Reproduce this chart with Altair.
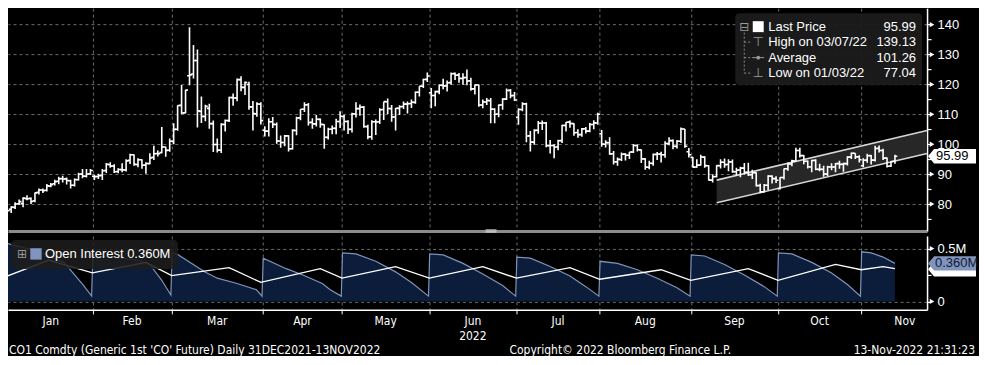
import altair as alt
import pandas as pd

# ---------------- data: daily bars (open, high, low, close) ----------------
# trading-day index 0 = 31 Dec 2021 ... last = 11 Nov 2022
bars_dec21 = [(79.3, 79.5, 77.6, 77.78)]
bars_jan = [
    (78.2, 79.3, 77.04, 78.98), (78.9, 80.6, 78.3, 80.00), (80.1, 81.5, 79.7, 80.80),
    (80.2, 82.3, 78.9, 81.99), (81.8, 82.9, 81.3, 81.75), (81.9, 82.2, 80.0, 80.87),
    (81.1, 83.9, 80.6, 83.72), (83.9, 85.2, 83.2, 84.67), (84.7, 85.2, 83.7, 84.47),
    (84.6, 86.7, 84.2, 86.06), (86.0, 87.0, 85.6, 86.48), (86.8, 88.1, 86.2, 87.51),
    (87.6, 89.1, 86.6, 88.44), (88.5, 89.5, 87.2, 88.38), (88.4, 88.9, 86.5, 87.89),
    (87.8, 88.1, 85.2, 86.27), (86.3, 88.5, 85.9, 88.20), (88.1, 90.5, 87.9, 89.96),
    (90.0, 91.7, 88.6, 89.34), (89.3, 91.7, 88.9, 90.03), (90.1, 91.7, 89.7, 91.21),
]
bars_feb = [
    (89.3, 89.8, 88.0, 89.16), (89.2, 90.1, 88.4, 89.47), (89.6, 91.7, 88.0, 91.11),
    (91.2, 93.7, 90.4, 93.27), (93.2, 94.0, 92.1, 92.69), (92.7, 93.3, 90.4, 90.78),
    (90.9, 92.0, 90.3, 91.55), (91.5, 93.6, 90.6, 91.41), (91.4, 95.0, 90.9, 94.44),
    (94.6, 96.8, 93.4, 96.48), (96.5, 96.6, 92.8, 93.28), (93.2, 95.3, 92.3, 94.81),
    (94.8, 95.0, 91.8, 92.97), (93.0, 94.0, 90.1, 93.54), (93.5, 97.0, 93.3, 95.39),
    (95.6, 99.5, 94.7, 96.84), (96.9, 97.9, 95.9, 96.84), (97.2, 105.79, 97.0, 99.08),
    (99.1, 99.2, 95.8, 97.93), (98.0, 101.9, 97.5, 100.99),
]
bars_mar = [
    (101.0, 107.0, 100.0, 104.97), (105.0, 113.0, 104.5, 112.93), (113.0, 119.84, 110.0, 110.46),
    (110.5, 118.2, 110.4, 118.11), (122.9, 139.13, 119.7, 123.21), (123.5, 133.2, 122.0, 127.98),
    (128.0, 131.7, 105.6, 111.14), (111.0, 116.0, 107.1, 109.33), (109.3, 113.2, 107.7, 112.67),
    (112.0, 113.5, 105.2, 106.90), (106.9, 107.9, 97.4, 99.91), (99.9, 101.9, 97.2, 98.02),
    (98.0, 107.0, 97.1, 106.64), (106.6, 108.3, 104.3, 107.93), (107.9, 115.9, 107.4, 115.62),
    (115.6, 117.0, 112.9, 115.48), (115.5, 122.0, 114.4, 121.60), (121.6, 122.7, 117.7, 119.03),
    (119.0, 121.0, 116.5, 120.65), (120.0, 120.9, 111.5, 112.48), (112.5, 114.5, 104.6, 110.23),
    (110.2, 114.0, 109.2, 113.45), (113.4, 114.0, 106.6, 107.91),
]
bars_apr = [
    (104.7, 106.0, 102.6, 104.39), (104.4, 108.7, 102.6, 107.53), (107.5, 109.1, 105.4, 106.64),
    (106.6, 107.3, 100.2, 101.07), (101.1, 102.9, 98.8, 100.58), (100.6, 103.1, 99.3, 102.78),
    (102.8, 103.0, 97.6, 98.48), (98.5, 105.0, 98.2, 104.64), (104.6, 109.2, 103.0, 108.78),
    (108.8, 111.7, 108.0, 111.70), (111.7, 114.0, 110.8, 113.16), (113.2, 113.8, 106.3, 107.25),
    (107.3, 108.7, 105.2, 106.80), (106.8, 109.8, 105.9, 108.33), (108.3, 108.6, 105.5, 106.65),
    (106.6, 106.7, 98.5, 102.32), (102.3, 105.5, 101.6, 104.99), (105.0, 106.3, 103.3, 105.32),
    (105.3, 108.5, 103.3, 107.59), (107.6, 111.0, 105.4, 109.34),
]
bars_may = [
    (109.3, 109.9, 104.6, 107.58), (107.6, 108.0, 103.4, 104.97), (105.0, 110.5, 103.9, 110.14),
    (110.1, 114.0, 108.9, 111.90), (111.9, 113.3, 109.5, 112.39), (112.4, 112.8, 105.5, 105.94),
    (105.9, 106.5, 101.7, 102.46), (102.5, 108.0, 101.5, 107.51), (107.5, 108.3, 103.1, 107.45),
    (107.5, 112.0, 106.8, 111.55), (111.6, 114.2, 108.1, 114.24), (114.2, 115.3, 110.1, 111.93),
    (111.9, 113.1, 107.5, 109.11), (109.1, 112.1, 104.6, 112.04), (112.0, 113.0, 109.8, 112.55),
    (112.6, 114.3, 111.8, 113.42), (113.4, 114.3, 110.3, 113.56), (113.6, 115.0, 112.1, 114.03),
    (114.0, 117.6, 113.5, 117.40), (117.4, 119.4, 116.0, 119.43), (119.4, 121.9, 118.8, 121.67),
    (121.7, 124.0, 120.8, 122.84),
]
bars_jun = [
    (117.2, 118.8, 112.0, 116.29), (116.3, 117.9, 112.7, 117.61), (117.6, 120.0, 116.7, 119.72),
    (119.7, 121.9, 118.4, 119.51), (119.5, 121.3, 117.6, 120.57), (120.6, 124.0, 119.9, 123.58),
    (123.6, 124.0, 121.5, 123.07), (123.1, 123.8, 120.6, 122.01), (122.0, 123.7, 119.9, 122.27),
    (122.3, 125.0, 119.7, 121.17), (121.2, 122.2, 117.9, 118.51), (118.5, 120.0, 116.6, 119.81),
    (119.8, 120.0, 112.5, 113.12), (113.1, 115.0, 112.0, 114.13), (114.1, 115.5, 113.1, 114.65),
    (114.6, 115.5, 107.0, 111.74), (111.7, 112.0, 107.0, 110.05), (110.1, 113.3, 109.0, 113.12),
    (113.1, 115.4, 111.5, 115.09), (115.1, 118.6, 114.8, 117.98), (118.0, 118.5, 115.4, 116.26),
    (116.3, 117.5, 114.5, 114.81),
]
bars_jul = [
    (109.0, 112.0, 106.5, 111.63), (111.6, 114.0, 111.0, 113.50), (113.5, 113.9, 100.7, 102.77),
    (102.8, 104.4, 97.6, 100.69), (100.7, 105.0, 99.8, 104.65), (104.7, 107.8, 103.5, 107.02),
    (107.0, 107.9, 104.8, 107.10), (107.1, 107.4, 99.0, 99.49), (99.5, 101.4, 96.9, 99.57),
    (99.6, 100.0, 95.3, 99.10), (99.1, 101.5, 98.0, 101.16), (101.2, 106.5, 100.4, 106.27),
    (106.3, 107.4, 104.3, 107.35), (107.4, 107.9, 105.5, 106.92), (106.9, 107.0, 102.8, 103.86),
    (103.9, 105.0, 102.2, 103.20), (103.2, 105.4, 102.5, 105.15), (105.2, 105.8, 103.6, 104.40),
    (104.4, 107.1, 104.0, 106.62), (106.6, 108.0, 105.0, 107.14), (107.1, 110.5, 106.5, 110.01),
]
bars_aug = [
    (103.5, 104.8, 99.2, 100.03), (100.0, 101.3, 98.9, 100.54), (100.5, 102.3, 96.5, 96.78),
    (96.8, 97.7, 93.2, 94.12), (94.1, 95.6, 92.8, 94.92), (94.9, 97.2, 94.4, 96.65),
    (96.7, 97.0, 94.6, 96.31), (96.3, 97.4, 95.1, 97.40), (97.4, 100.1, 97.1, 99.60),
    (99.6, 99.9, 97.6, 98.15), (98.1, 98.2, 93.7, 95.10), (95.1, 95.3, 91.5, 92.34),
    (92.3, 94.5, 91.6, 93.65), (93.6, 96.9, 92.8, 96.59), (96.6, 97.4, 94.7, 96.72),
    (96.7, 97.5, 93.9, 96.48), (96.5, 101.0, 95.5, 100.22), (100.2, 102.3, 99.7, 101.22),
    (101.2, 101.6, 98.3, 99.34), (99.3, 101.4, 98.6, 100.99), (101.0, 105.6, 100.4, 105.09),
    (105.1, 105.1, 98.8, 99.31), (97.5, 98.7, 95.6, 96.49),
]
bars_sep = [
    (95.6, 95.7, 92.2, 92.36), (92.4, 95.0, 92.1, 93.02), (93.0, 96.5, 92.9, 95.74),
    (95.7, 96.0, 92.1, 92.83), (92.8, 93.0, 87.9, 88.00), (88.0, 90.0, 87.2, 89.15),
    (89.2, 93.0, 88.9, 92.84), (92.8, 95.0, 91.9, 94.00), (94.0, 95.2, 92.1, 93.17),
    (93.2, 95.0, 91.0, 94.10), (94.1, 94.9, 90.5, 90.84), (90.8, 92.1, 89.5, 91.35),
    (91.4, 92.5, 89.0, 92.00), (92.0, 93.7, 89.9, 90.62), (90.6, 93.8, 89.4, 89.83),
    (89.8, 91.5, 88.4, 90.46), (90.5, 90.6, 85.9, 86.15), (86.2, 86.8, 83.6, 84.06),
    (84.1, 86.7, 83.9, 86.27), (86.3, 89.6, 84.7, 89.32), (89.3, 89.6, 86.9, 88.49),
    (88.5, 89.3, 87.0, 87.96),
]
bars_oct = [
    (85.2, 89.0, 84.9, 88.86), (88.9, 91.9, 88.2, 91.80), (91.8, 93.9, 91.1, 93.37),
    (93.4, 94.8, 92.6, 94.42), (94.4, 98.8, 94.2, 97.92), (97.9, 98.8, 95.6, 96.19),
    (96.2, 96.4, 93.3, 94.29), (94.3, 94.6, 91.9, 92.45), (92.4, 94.8, 90.6, 94.57),
    (94.6, 95.0, 91.3, 91.63), (91.6, 93.5, 91.0, 91.62), (91.6, 92.8, 89.1, 90.03),
    (90.0, 92.8, 89.4, 92.41), (92.4, 93.6, 91.3, 92.38), (92.4, 93.7, 90.6, 93.50),
    (93.5, 94.5, 91.8, 93.26), (93.3, 93.8, 90.8, 93.52), (93.5, 96.0, 92.9, 95.69),
    (95.7, 97.2, 95.1, 96.96), (97.0, 97.0, 95.1, 95.77), (95.8, 96.3, 93.9, 94.83),
]
bars_nov = [
    (92.8, 95.3, 92.3, 94.65), (94.7, 96.8, 93.8, 96.16), (96.2, 96.4, 93.2, 94.67),
    (94.7, 99.5, 94.2, 98.57), (98.6, 99.6, 97.2, 97.92), (97.9, 98.5, 94.7, 95.36),
    (95.4, 95.6, 92.2, 92.65), (92.7, 94.4, 92.4, 94.25), (94.3, 96.5, 93.5, 95.99),
]

# month boundaries / label centres (in trading-day index units)
month_edges = [21.5, 41.5, 64.5, 84.5, 106.5, 128.5, 149.5, 172.5, 194.5, 215.5]
month_names = ["Jan", "Feb", "Mar", "Apr", "May", "Jun", "Jul", "Aug", "Sep", "Oct", "Nov"]
month_mid = [11, 31.5, 53, 74.5, 95.5, 117.5, 139, 161, 183.5, 205, 226.5]

# trend channel
chan_i = [179, 232.1]
chan_lo = [80.4, 96.9]
chan_hi = [88.0, 104.6]

# open interest (millions)
oi_i = [0, 5, 10, 14.3, 16.8, 19.3, 21.3,
        21.6, 27, 33, 36, 39, 41.3,
        41.6, 43, 49.8, 53, 58, 62.9, 64.3,
        64.6, 70.4, 74.6, 79.5, 81.5, 84.3,
        84.6, 88, 93, 98, 102, 106.3,
        106.6, 110, 115, 120, 125, 128.3,
        128.6, 132, 137, 142, 146, 149.3,
        149.6, 154, 159, 164, 169, 172.3,
        172.6, 176, 181, 186, 191, 194.3,
        194.6, 198, 203, 208, 212, 215.3,
        215.6, 218, 221, 224]
oi_v = [0.55, 0.50, 0.44, 0.37, 0.26, 0.15, 0.05,
        0.43, 0.42, 0.39, 0.35, 0.20, 0.06,
        0.46, 0.445, 0.28, 0.22, 0.17, 0.11, 0.05,
        0.41, 0.31, 0.25, 0.17, 0.11, 0.05,
        0.46, 0.45, 0.38, 0.28, 0.18, 0.05,
        0.45, 0.44, 0.36, 0.26, 0.15, 0.05,
        0.42, 0.41, 0.33, 0.24, 0.14, 0.05,
        0.38, 0.36, 0.30, 0.22, 0.13, 0.05,
        0.44, 0.43, 0.35, 0.25, 0.14, 0.05,
        0.46, 0.45, 0.37, 0.27, 0.16, 0.05,
        0.47, 0.46, 0.42, 0.36]
avg_i = [0, 10.5, 21.5, 35, 41.5, 56, 64, 79, 84.5, 98, 106.5, 120, 128.5, 142,
         149.5, 165, 172.5, 187, 194.5, 209, 215.5, 221, 224]
avg_v = [0.24, 0.39, 0.27, 0.37, 0.245, 0.32, 0.18, 0.31, 0.22, 0.33, 0.22, 0.33, 0.22,
         0.32, 0.21, 0.30, 0.20, 0.31, 0.20, 0.35, 0.30, 0.33, 0.31]

top_ticks = [75, 80, 85, 90, 95, 100, 105, 110, 115, 120, 125, 130, 135, 140]
top_major = [80, 90, 100, 110, 120, 130, 140]
last_price = 95.99
last_oi = 0.36
last_avg = 0.305

# ---------------- frames ----------------
all_bars = (bars_dec21 + bars_jan + bars_feb + bars_mar + bars_apr + bars_may + bars_jun
            + bars_jul + bars_aug + bars_sep + bars_oct + bars_nov)
price = pd.DataFrame(all_bars, columns=["o", "h", "l", "c"])
price["i"] = range(len(price))
chan_df = pd.DataFrame({"ci": chan_i, "lo": chan_lo, "hi": chan_hi})
oi_df = pd.DataFrame({"i": oi_i, "v": oi_v})
avg_df = pd.DataFrame({"i": avg_i, "v": avg_v})
months_df = pd.DataFrame({"m": month_names, "pos": month_mid})
dummy = pd.DataFrame({"a": [0]})

# ---------------- layout / style ----------------
W, H1, H2 = 920, 223, 74
AXF = "Liberation Sans, Arial, sans-serif"
NARROW = "Liberation Sans Narrow, Arial Narrow, DejaVu Sans Condensed, Liberation Sans, Arial, sans-serif"
GRID = "#6c6c6c"

xsc = alt.Scale(domain=[0.2, 232.1], nice=False, zero=False)
ysc_top = alt.Scale(domain=[71, 145.5], nice=False, zero=False)
ysc_bot = alt.Scale(domain=[-0.08, 0.62], nice=False, zero=False)

top_x_axis = alt.Axis(values=month_edges, labels=False, ticks=False, grid=True, gridColor=GRID,
                      gridDash=[3, 3], gridWidth=1, domain=True, domainColor="#8c8c8c",
                      domainWidth=3, title=None)
top_y_axis = alt.Axis(orient="right", values=top_ticks, title=None,
                      labelExpr="datum.value % 10 === 0 ? datum.label : ''",
                      labelColor="white", labelFontSize=13, labelFont=AXF, labelPadding=6,
                      tickColor="white", tickSize=4, tickWidth=1.2,
                      domainColor="white", domainWidth=1.5,
                      grid=True, gridColor=GRID, gridDash=[3, 3],
                      gridOpacity={"condition": {"test": "datum.value % 10 === 0", "value": 1}, "value": 0})
bot_x_axis = alt.Axis(values=month_edges, labels=False, ticks=True, tickColor="white", tickSize=4,
                      grid=True, gridColor=GRID, gridDash=[3, 3], gridWidth=1,
                      domain=True, domainColor="white", domainWidth=1.5, title=None)
bot_y_axis = alt.Axis(orient="right", values=[0, 0.25, 0.5], title=None,
                      labelExpr="datum.value === 0.5 ? '0.5M' : (datum.value === 0 ? '0' : '')",
                      labelColor="white", labelFontSize=13, labelFont=AXF, labelPadding=6,
                      tickColor="white", tickSize=4, tickWidth=1.2,
                      domainColor="white", domainWidth=1.5,
                      grid=True, gridColor=GRID, gridDash=[3, 3],
                      gridOpacity={"condition": {"test": "datum.value !== 0.25", "value": 1}, "value": 0})


def X(field):
    return alt.X(field, scale=xsc, axis=top_x_axis)


def Y(field):
    return alt.Y(field, scale=ysc_top, axis=top_y_axis)


def XB(field):
    return alt.X(field, scale=xsc, axis=bot_x_axis)


def YB(field):
    return alt.Y(field, scale=ysc_bot, axis=bot_y_axis)


BOX = "M -1 0 L -0.75 -0.3 L 1 -0.3 L 1 0.3 L -0.75 0.3 Z"

# ---------------- top panel ----------------
chan_area = alt.Chart(chan_df).mark_area(color="#272727", clip=True).encode(
    x=X("ci:Q"), y=Y("lo:Q"), y2="hi:Q")
chan_l1 = alt.Chart(chan_df).mark_line(color="#d6d6d6", strokeWidth=1.6, clip=True).encode(
    x=X("ci:Q"), y=Y("lo:Q"))
chan_l2 = alt.Chart(chan_df).mark_line(color="#d6d6d6", strokeWidth=1.6, clip=True).encode(
    x=X("ci:Q"), y=Y("hi:Q"))
hl = alt.Chart(price).mark_rule(color="white", strokeWidth=1.6, clip=True).encode(
    x=X("i:Q"), y=Y("l:Q"), y2="h:Q")
op = alt.Chart(price).transform_calculate(xl="datum.i - 0.6").mark_rule(
    color="white", strokeWidth=1.6, clip=True).encode(x=X("xl:Q"), x2="i:Q", y=Y("o:Q"))
cl = alt.Chart(price).transform_calculate(xr="datum.i + 0.6").mark_rule(
    color="white", strokeWidth=1.6, clip=True).encode(x=X("i:Q"), x2="xr:Q", y=Y("c:Q"))

tri_top = alt.Chart(pd.DataFrame({"v": top_major})).mark_point(
    shape="triangle-right", filled=True, color="white", size=28, opacity=1).encode(
    x=alt.value(W + 5), y=Y("v:Q"))
lp_df = pd.DataFrame({"v": [last_price], "t": [f"{last_price:.2f}"]})
lp_box = alt.Chart(lp_df).mark_point(shape=BOX, filled=True, fill="white", size=2304,
                                     opacity=1, strokeWidth=0).encode(x=alt.value(W + 25), y=Y("v:Q"))
lp_txt = alt.Chart(lp_df).mark_text(align="left", baseline="middle", color="black",
                                    fontSize=13, font=AXF).encode(
    x=alt.value(W + 9), y=Y("v:Q"), text="t:N")

# legend box (top right)
leg = [alt.Chart(dummy).mark_rect(fill="#1c1c1c", opacity=0.93, cornerRadius=4).encode(
    x=alt.value(728), x2=alt.value(915), y=alt.value(5), y2=alt.value(77))]
rows_y = [18.5, 34, 49.5, 65]
rows_lab = ["Last Price", "High on 03/07/22", "Average", "Low on 01/03/22"]
rows_val = ["95.99", "139.13", "101.26", "77.04"]
for ry, lab, val in zip(rows_y, rows_lab, rows_val):
    leg.append(alt.Chart(dummy).mark_text(align="left", baseline="middle", color="white",
                                          fontSize=13, font=AXF, text=lab).encode(
        x=alt.value(761), y=alt.value(ry)))
    leg.append(alt.Chart(dummy).mark_text(align="right", baseline="middle", color="white",
                                          fontSize=13, font=AXF, text=val).encode(
        x=alt.value(909), y=alt.value(ry)))
leg.append(alt.Chart(dummy).mark_text(align="center", baseline="middle", color="#9a9a9a",
                                      fontSize=12, font="DejaVu Sans", text="⊟").encode(
    x=alt.value(737), y=alt.value(rows_y[0])))
leg.append(alt.Chart(dummy).mark_square(size=120, filled=True, color="white", opacity=1).encode(
    x=alt.value(751), y=alt.value(rows_y[0])))
leg.append(alt.Chart(dummy).mark_rule(color="#8a8a8a", strokeWidth=1, strokeDash=[2, 2]).encode(
    x=alt.value(737), y=alt.value(rows_y[0] + 6), y2=alt.value(rows_y[3])))
for ry in rows_y[1:]:
    leg.append(alt.Chart(dummy).mark_rule(color="#8a8a8a", strokeWidth=1, strokeDash=[2, 2]).encode(
        x=alt.value(737), x2=alt.value(744), y=alt.value(ry)))
leg.append(alt.Chart(dummy).mark_text(align="center", baseline="middle", color="#9a9a9a",
                                      fontSize=13, font="DejaVu Sans", text="⊤").encode(
    x=alt.value(751), y=alt.value(rows_y[1])))
leg.append(alt.Chart(dummy).mark_rule(color="#9a9a9a", strokeWidth=1).encode(
    x=alt.value(745), x2=alt.value(757), y=alt.value(rows_y[2])))
leg.append(alt.Chart(dummy).mark_circle(size=14, color="#9a9a9a", opacity=1).encode(
    x=alt.value(751), y=alt.value(rows_y[2])))
leg.append(alt.Chart(dummy).mark_text(align="center", baseline="middle", color="#9a9a9a",
                                      fontSize=13, font="DejaVu Sans", text="⊥").encode(
    x=alt.value(751), y=alt.value(rows_y[3])))
handle = [alt.Chart(dummy).mark_rule(color="#e6e6e6", strokeWidth=1).encode(
    x=alt.value(478), x2=alt.value(489), y=alt.value(H1 + d)) for d in (-1, 1)]

top = alt.layer(chan_area, chan_l1, chan_l2, hl, op, cl, tri_top, *leg, *handle,
                lp_box, lp_txt).properties(width=W, height=H1)

# ---------------- bottom panel ----------------
oi_area = alt.Chart(oi_df).mark_area(color="#0b1d3a", opacity=1, clip=True,
                                     line={"color": "#7f93b9", "strokeWidth": 1.2}).encode(
    x=XB("i:Q"), y=YB("v:Q"))
avg_line = alt.Chart(avg_df).mark_line(color="white", strokeWidth=1.3, clip=True).encode(
    x=XB("i:Q"), y=YB("v:Q"))
tri_bot = alt.Chart(pd.DataFrame({"v": [0, 0.5]})).mark_point(
    shape="triangle-right", filled=True, color="white", size=28, opacity=1).encode(
    x=alt.value(W + 5), y=YB("v:Q"))
avg_b = alt.Chart(pd.DataFrame({"v": [last_avg]})).mark_point(
    shape=BOX, filled=True, fill="white", size=2304, opacity=1, strokeWidth=0).encode(
    x=alt.value(W + 25), y=YB("v:Q"))
oi_box = alt.Chart(pd.DataFrame({"v": [last_oi], "t": [f"{last_oi:.3f}M"]}))
oi_b = oi_box.mark_point(shape=BOX, filled=True, fill="#8194bd", size=2304, opacity=1,
                         strokeWidth=0).encode(x=alt.value(W + 25), y=YB("v:Q"))
oi_t = oi_box.mark_text(align="left", baseline="middle", color="#0d1a33", fontSize=13,
                        font=AXF).encode(x=alt.value(W + 8), y=YB("v:Q"), text="t:N")

leg2 = [
    alt.Chart(dummy).mark_rect(fill="#1c1c1c", opacity=0.88, cornerRadius=4).encode(
        x=alt.value(3), x2=alt.value(170), y=alt.value(4), y2=alt.value(33)),
    alt.Chart(dummy).mark_text(align="center", baseline="middle", color="#9a9a9a", fontSize=12,
                               font="DejaVu Sans", text="⊞").encode(x=alt.value(14), y=alt.value(18)),
    alt.Chart(dummy).mark_square(size=130, filled=True, color="#8194bd", opacity=1).encode(
        x=alt.value(28), y=alt.value(18)),
    alt.Chart(dummy).mark_text(align="left", baseline="middle", color="white", fontSize=13,
                               font=AXF, text="Open Interest 0.360M").encode(
        x=alt.value(37), y=alt.value(18)),
]

month_txt = alt.Chart(months_df).mark_text(baseline="middle", color="white", fontSize=12,
                                            font=NARROW).encode(
    x=XB("pos:Q"), y=alt.value(H2 + 11), text="m:N")
year_txt = alt.Chart(pd.DataFrame({"pos": [month_mid[5]], "t": ["2022"]})).mark_text(
    baseline="middle", color="white", fontSize=12, font=NARROW).encode(
    x=XB("pos:Q"), y=alt.value(H2 + 26), text="t:N")
foot = [
    alt.Chart(dummy).mark_text(align="left", baseline="middle", color="white", fontSize=12,
                               font=NARROW,
                               text="CO1 Comdty (Generic 1st 'CO' Future)  Daily 31DEC2021-13NOV2022").encode(
        x=alt.value(1), y=alt.value(H2 + 40)),
    alt.Chart(dummy).mark_text(align="left", baseline="middle", color="white", fontSize=12,
                               font=NARROW, text="Copyright\u00a9 2022 Bloomberg Finance L.P.").encode(
        x=alt.value(502), y=alt.value(H2 + 40)),
    alt.Chart(dummy).mark_text(align="right", baseline="middle", color="white", fontSize=12,
                               font=NARROW, text="13-Nov-2022 21:31:23").encode(
        x=alt.value(W + 48), y=alt.value(H2 + 40)),
]

bottom = alt.layer(oi_area, avg_line, tri_bot, *leg2, avg_b, oi_b, oi_t,
                   month_txt, year_txt, *foot).properties(width=W, height=H2)

chart = alt.vconcat(top, bottom, spacing=3).properties(
    background="#000000", padding=0
).configure_view(stroke=None)

chart.save("out.html", embed_options={"renderer": "svg", "actions": False})
